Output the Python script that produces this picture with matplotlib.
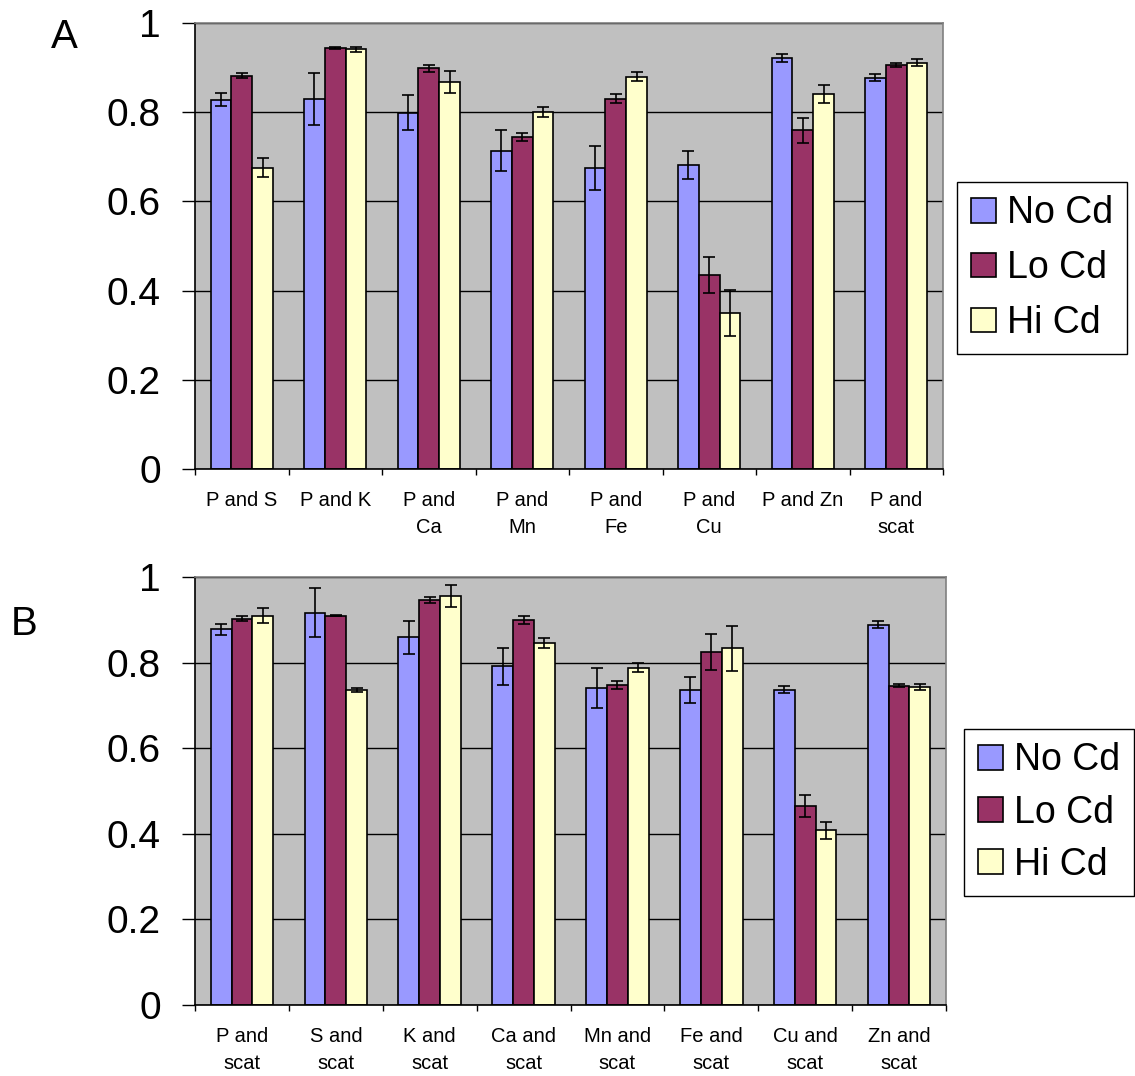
import matplotlib
matplotlib.use('Agg')
import numpy as np
import matplotlib.pyplot as plt
import matplotlib.ticker as ticker

plt.rcParams['font.family'] = ['Liberation Sans', 'DejaVu Sans']

series = ['No Cd', 'Lo Cd', 'Hi Cd']
colors = ['#9999FF', '#993366', '#FFFFCC']

# panel A
groups_a = ['P and S', 'P and K', 'P and\nCa', 'P and\nMn', 'P and\nFe', 'P and\nCu', 'P and Zn', 'P and\nscat']
no_a = [0.828, 0.830, 0.799, 0.714, 0.675, 0.681, 0.921, 0.877]
no_a_err = [0.014, 0.058, 0.039, 0.045, 0.049, 0.031, 0.009, 0.008]
lo_a = [0.882, 0.944, 0.898, 0.744, 0.830, 0.435, 0.759, 0.906]
lo_a_err = [0.005, 0.003, 0.007, 0.009, 0.010, 0.040, 0.027, 0.005]
hi_a = [0.676, 0.941, 0.868, 0.801, 0.880, 0.350, 0.841, 0.911]
hi_a_err = [0.021, 0.006, 0.025, 0.011, 0.010, 0.051, 0.020, 0.008]

# panel B
groups_b = ['P and\nscat', 'S and\nscat', 'K and\nscat', 'Ca and\nscat', 'Mn and\nscat', 'Fe and\nscat', 'Cu and\nscat', 'Zn and\nscat']
no_b = [0.878, 0.917, 0.859, 0.791, 0.741, 0.736, 0.737, 0.889]
no_b_err = [0.013, 0.057, 0.039, 0.044, 0.047, 0.030, 0.008, 0.008]
lo_b = [0.903, 0.910, 0.946, 0.899, 0.748, 0.825, 0.465, 0.746]
lo_b_err = [0.005, 0.002, 0.007, 0.009, 0.010, 0.042, 0.026, 0.004]
hi_b = [0.910, 0.736, 0.956, 0.846, 0.788, 0.833, 0.408, 0.744]
hi_b_err = [0.018, 0.005, 0.026, 0.011, 0.011, 0.052, 0.019, 0.007]

yticks = [0, 0.2, 0.4, 0.6, 0.8, 1.0]
ytick_labels = ['0', '0.2', '0.4', '0.6', '0.8', '1']

W, H = 1135, 1076
fig = plt.figure(figsize=(W / 100, H / 100), dpi=100)

# axes rects from pixel positions
ax_a = fig.add_axes([195 / W, 1 - 469 / H, (943 - 195) / W, (469 - 23) / H])
ax_b = fig.add_axes([195 / W, 1 - 1005 / H, (946 - 195) / W, (1005 - 577) / H])


def draw_panel(ax, groups, vals, errs, legend_pos, spacing):
    x = np.arange(len(groups))
    width = 0.222
    for k, (v, e) in enumerate(zip(vals, errs)):
        pos = x + (k - 1) * width
        ax.bar(pos, v, width, color=colors[k], edgecolor='black', linewidth=1.2,
               label=series[k], zorder=2)
        ax.errorbar(pos, v, yerr=e, fmt='none', ecolor='black', elinewidth=1.2,
                    capsize=4.5, capthick=1.2, zorder=3)

    ax.set_facecolor('#C0C0C0')
    ax.set_xlim(-0.5, len(groups) - 0.5)
    ax.set_ylim(0, 1)
    ax.set_axisbelow(True)
    ax.yaxis.grid(True, color='black', linewidth=1.0)

    ax.set_yticks(yticks)
    ax.set_yticklabels(ytick_labels, fontsize=28)
    ax.tick_params(axis='y', direction='out', length=9.5, width=1, pad=15)

    # ticks at group boundaries, labels at group centres
    ax.xaxis.set_major_locator(ticker.FixedLocator(np.arange(-0.5, len(groups), 1)))
    ax.xaxis.set_major_formatter(ticker.NullFormatter())
    ax.xaxis.set_minor_locator(ticker.FixedLocator(x))
    ax.set_xticklabels(groups, minor=True, fontsize=14.5, linespacing=1.55)
    ax.tick_params(axis='x', which='major', direction='out', length=4.5, width=1)
    ax.tick_params(axis='x', which='minor', length=0, pad=16)

    ax.spines['left'].set_color('black')
    ax.spines['bottom'].set_color('black')
    ax.spines['top'].set_color('#808080')
    ax.spines['right'].set_color('#808080')
    for s in ax.spines.values():
        s.set_linewidth(1.2)

    leg = ax.legend(loc='upper left', bbox_to_anchor=legend_pos, bbox_transform=fig.transFigure,
                    fontsize=27, handlelength=0.67, handleheight=0.63, handletextpad=0.3,
                    labelspacing=spacing, borderpad=0.36, borderaxespad=0, fancybox=False,
                    framealpha=1, edgecolor='black')
    leg.get_frame().set_linewidth(1.0)


draw_panel(ax_a, groups_a, [no_a, lo_a, hi_a], [no_a_err, lo_a_err, hi_a_err],
           (957 / W, 1 - 182 / H), 0.5)
draw_panel(ax_b, groups_b, [no_b, lo_b, hi_b], [no_b_err, lo_b_err, hi_b_err],
           (964 / W, 1 - 729 / H), 0.43)

fig.text(64 / W, 1 - 37 / H, 'A', fontsize=29, ha='center', va='center')
fig.text(24 / W, 1 - 624 / H, 'B', fontsize=29, ha='center', va='center')

plt.savefig('out.png', dpi=100)
